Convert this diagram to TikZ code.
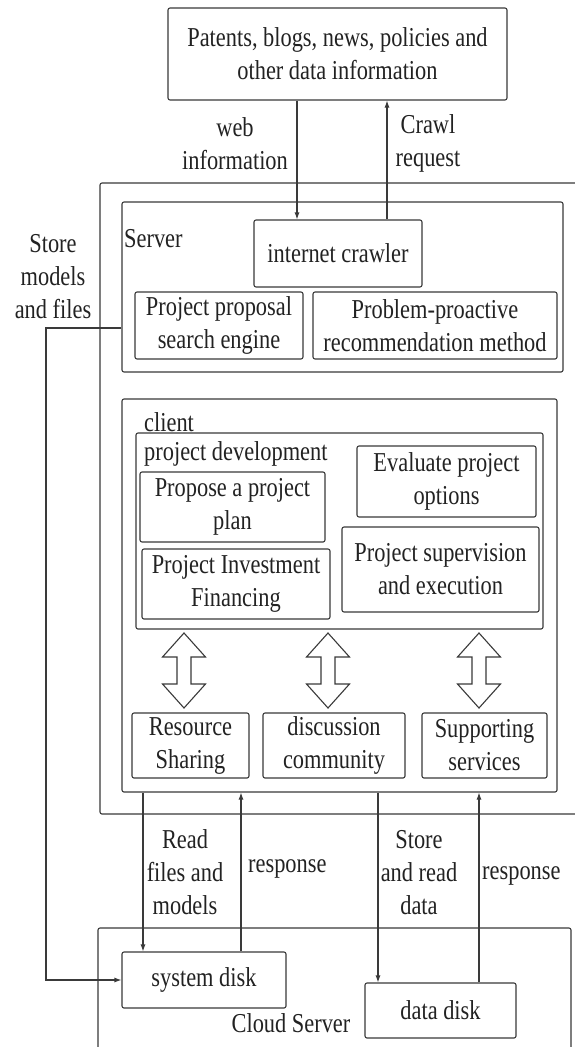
\documentclass[tikz,border=0pt]{standalone}
\usepackage{fontspec}
\setmainfont{Liberation Serif}[FakeStretch=0.82]
\usetikzlibrary{arrows.meta}
\definecolor{ln}{HTML}{3A3A3A}
\definecolor{tx}{HTML}{222222}
\begin{document}
\begin{tikzpicture}[x=1pt,y=-1pt,
  every node/.style={font=\fontsize{27.3}{33}\selectfont, text=tx},
  box/.style={draw=ln, line width=1.1pt, rounded corners=2pt, inner sep=0pt, align=center},
  lbl/.style={inner sep=0pt, align=center},
  wire/.style={draw=ln, line width=1.1pt},
  arr/.style={draw=ln, line width=1.1pt, -{Latex[length=7pt,width=5pt]}}]
\useasboundingbox (0,0) rectangle (574,1047);
\fill[white] (0,0) rectangle (574,1047);
% containers
\draw[wire, rounded corners=2pt] (578,183) -- (100,183) -- (100,814) -- (578,814);
\draw[wire, rounded corners=2pt] (98,1052) -- (98,928) -- (571,928) -- (571,1052);
% top source
\node[box, minimum width=339pt, minimum height=92pt] (src) at (337.5,54) {Patents, blogs, news, policies and\\other data information};
% server
\node[box, minimum width=441pt, minimum height=170pt] (server) at (342.5,287) {};
\node[lbl, anchor=base west] (serverl) at (124,247) {Server};
\node[box, minimum width=168pt, minimum height=67pt] (crawler) at (338,253.5) {internet crawler};
\node[box, minimum width=168pt, minimum height=67pt] (search) at (219,325.5) {Project proposal\\search engine};
\node[box, minimum width=244pt, minimum height=67pt] (recom) at (435,325.5) {Problem-proactive\\recommendation method};
% client
\node[box, minimum width=435pt, minimum height=393pt] (client) at (339.5,595.5) {};
\node[lbl, anchor=base west] (clientl) at (144,431) {client};
\node[box, minimum width=407pt, minimum height=196pt] (projdev) at (339.5,531) {};
\node[lbl, anchor=base west] (pdl) at (144,460) {project development};
\node[box, minimum width=185pt, minimum height=70pt] (propose) at (232.5,507) {Propose a project\\plan};
\node[box, minimum width=188pt, minimum height=70pt] (invest) at (236,584) {Project Investment\\Financing};
\node[box, minimum width=179pt, minimum height=71pt] (evaluate) at (446.5,481.5) {Evaluate project\\options};
\node[box, minimum width=197pt, minimum height=85pt] (supervise) at (440.5,569.5) {Project supervision\\and execution};
\node[box, minimum width=117pt, minimum height=65pt] (resource) at (190.5,745.5) {Resource\\Sharing};
\node[box, minimum width=142pt, minimum height=65pt] (discuss) at (334,745.5) {discussion\\community};
\node[box, minimum width=125pt, minimum height=65pt] (support) at (484.5,745.5) {Supporting\\services};
% double arrows
\foreach \c in {184,328,479}
  \draw[wire, line join=miter] (\c,633) -- (\c+21.5,657) -- (\c+7,657) -- (\c+7,684) -- (\c+21.5,684) -- (\c,708) -- (\c-21.5,684) -- (\c-7,684) -- (\c-7,657) -- (\c-21.5,657) -- cycle;
% cloud
\node[box, minimum width=164pt, minimum height=56pt] (sysdisk) at (204,980) {system disk};
\node[box, minimum width=151pt, minimum height=55pt] (datadisk) at (440.5,1010.5) {data disk};
\node[lbl, anchor=base] (cloudl) at (291,1032) {Cloud Server};
% labels
\node[lbl] (webl) at (235,143.5) {web\\information};
\node[lbl] (crawll) at (428,143.5) {Crawl\\request};
\node[lbl] (storel) at (53,277) {Store\\models\\and files};
\node[lbl] (readl) at (185,872) {Read\\files and\\models};
\node[lbl, anchor=base west] (resp1) at (248,872) {response};
\node[lbl] (storedl) at (419,873) {Store\\and read\\data};
\node[lbl, anchor=base west] (resp2) at (482,879) {response};
% connectors
\coordinate (wx) at (297,0);
\coordinate (cx) at (387,0);
\draw[arr] (src.south -| wx) -- (crawler.north -| wx);
\draw[arr] (crawler.north -| cx) -- (src.south -| cx);
\coordinate (smy) at (0,328);
\coordinate (smx) at (46,0);
\draw[arr] (server.west |- smy) -- (smx |- smy) -- (smx |- sysdisk.west) -- (sysdisk.west);
\coordinate (r1) at (143,0);
\coordinate (r2) at (241,0);
\coordinate (r3) at (378,0);
\coordinate (r4) at (479,0);
\draw[arr] (client.south -| r1) -- (sysdisk.north -| r1);
\draw[arr] (sysdisk.north -| r2) -- (client.south -| r2);
\draw[arr] (client.south -| r3) -- (datadisk.north -| r3);
\draw[arr] (datadisk.north -| r4) -- (client.south -| r4);
\end{tikzpicture}
\end{document}
